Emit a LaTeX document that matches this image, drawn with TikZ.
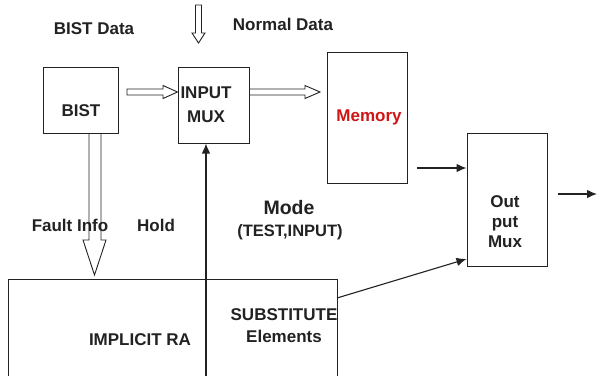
\documentclass[tikz,border=0pt]{standalone}
\usepackage{fontspec}
\setmainfont{Liberation Sans}
\usetikzlibrary{arrows.meta,calc}
\definecolor{ink}{HTML}{222222}
\definecolor{memred}{HTML}{D01515}
\begin{document}
\begin{tikzpicture}[x=1pt,y=-1pt,
  blk/.style={draw=ink, line width=1pt, inner sep=0pt},
  lbl/.style={font=\fontsize{17}{20}\selectfont\bfseries, text=ink, align=center, inner sep=0pt},
  arr/.style={draw=ink, line width=1.1pt, -{Latex[length=10pt,width=8.5pt]}},
  hollow/.style={draw=ink, line width=0.9pt, line join=miter}]
\useasboundingbox (0,0) rectangle (597,375);
\fill[white] (0,0) rectangle (597,375);

% blocks
\node[blk, minimum width=75pt, minimum height=66pt] (bist) at (80.5,100) {};
\node[blk, minimum width=71pt, minimum height=76pt] (imux) at (213.5,105) {};
\node[blk, minimum width=80pt, minimum height=131pt] (mem) at (367,117.5) {};
\node[blk, minimum width=80pt, minimum height=133pt] (omux) at (507,199.5) {};

% bottom block (open below the picture edge)
\coordinate (bl) at (8,380);
\coordinate (br) at (337,380);
\draw[ink, line width=1pt] (bl) -- (8,279) coordinate (btl) -- (337,279) coordinate (btr) -- (br);

% hollow arrows
\coordinate (ndtip) at (198.5,43);
\draw[hollow] (195.5,5) -- (201.5,5) -- (201.5,33) -- (205,33) -- (ndtip) -- (192,33) -- (195.5,33) -- cycle;
\coordinate (bimtip) at (imux.west |- 0,92);
\draw[hollow] (127,89) -- (163,89) -- (163,85.5) -- (bimtip) -- (163,98.5) -- (163,95) -- (127,95) -- cycle;
\coordinate (immtip) at (320,92);
\draw[hollow] (imux.east |- 0,89) -- (305,89) -- (305,85.5) -- (immtip) -- (305,98.5) -- (305,95) -- (imux.east |- 0,95);
\coordinate (fitip) at (94.5,275);
\draw[hollow] (89,0 |- bist.south) -- (89,240) -- (83,240) -- (fitip) -- (106,240) -- (101,240) -- (101,0 |- bist.south);

% texts
\node[lbl] (tbd) at (94,29) {BIST Data};
\node[lbl] (tnd) at (283,24) {Normal Data};
\node[lbl] (tbist) at (81,111) {BIST};
\node[lbl, font=\fontsize{17}{24}\selectfont\bfseries] (timux) at (206,104.5) {INPUT\\MUX};
\node[lbl, text=memred] (tmem) at (369,117) {Memory};
\node[lbl, font=\fontsize{19.5}{22}\selectfont\bfseries] (tmode) at (289,208) {Mode};
\node[lbl, font=\fontsize{16.5}{20}\selectfont\bfseries] (ttest) at (290,232) {(TEST,INPUT)};
\node[lbl] (tfault) at (70,225) {Fault Info};
\node[lbl] (thold) at (156,225) {Hold};
\node[lbl] (tira) at (140,340) {IMPLICIT RA};
\node[lbl, font=\fontsize{17}{22}\selectfont\bfseries] (tsub) at (284,326) {SUBSTITUTE\\Elements};
\node[lbl] (tout) at (505,222) {Out\\put\\Mux};

% line connectors
\coordinate (vbot) at (206,380);
\draw[arr] (vbot) -- (vbot |- imux.south);
\coordinate (m1) at (417,168);
\draw[arr] (m1) -- (m1 -| omux.west);
\coordinate (subr) at (337,298);
\draw[arr] (subr) -- (omux.west |- 0,259);
\coordinate (outend) at (597,194);
\draw[arr] (omux.east |- 0,194) ++(10,0) -- (outend);
\end{tikzpicture}
\end{document}
